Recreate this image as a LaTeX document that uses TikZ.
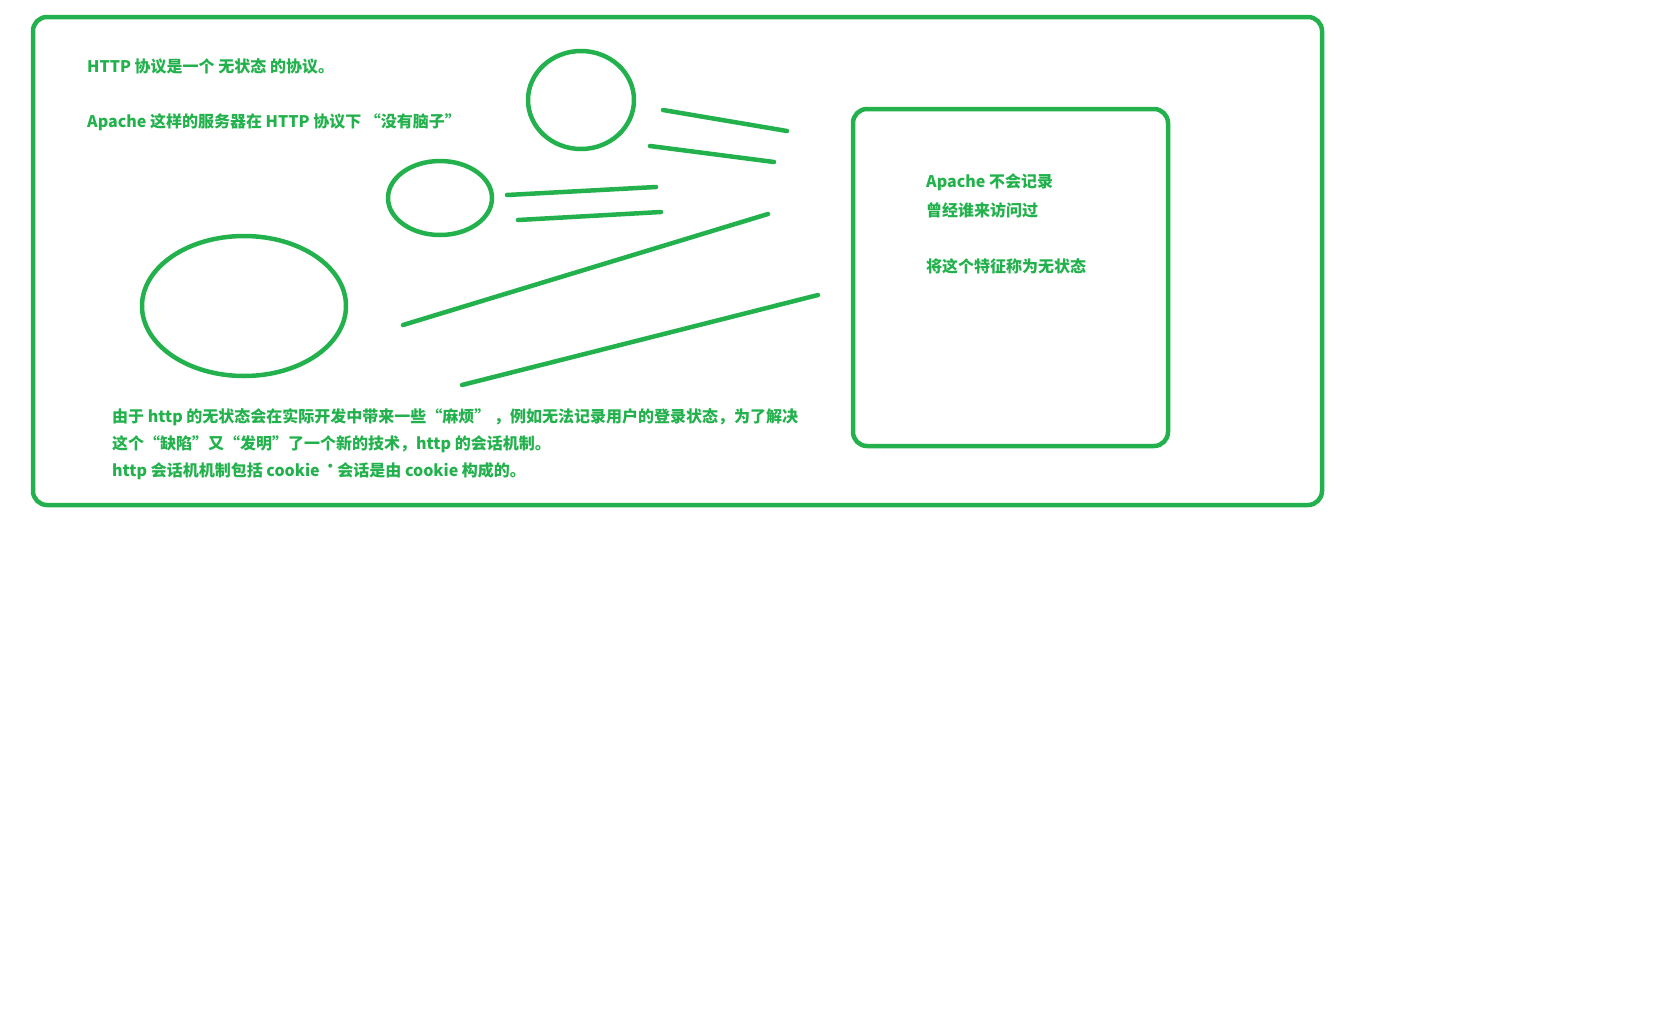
\documentclass[tikz,border=0pt]{standalone}
\usepackage{fontspec}
\setmainfont{Noto Sans CJK SC}
\definecolor{paintgreen}{RGB}{34,177,76}
\tikzset{
  stroke/.style={draw=paintgreen, line width=4.5pt, line cap=round},
  frame/.style={draw=paintgreen, line width=4.5pt, rounded corners=14pt},
  txt/.style={text=paintgreen, font=\fontsize{16}{19}\selectfont\bfseries, anchor=west, inner sep=0pt}
}
\begin{document}
\begin{tikzpicture}[x=1pt,y=-1pt]
\useasboundingbox (0,0) rectangle (1680,1028);
% frames
\draw[frame] (33,17) rectangle (1322,505);
\draw[frame] (853,109) rectangle (1168,446);
% circles
\draw[stroke] (581,100) ellipse [x radius=53, y radius=49];
\draw[stroke] (440,198) ellipse [x radius=52, y radius=37];
\draw[stroke] (244,306) ellipse [x radius=102, y radius=70];
% speed lines
\draw[stroke] (663,110) -- (787,131);
\draw[stroke] (650,146) -- (774,162);
\draw[stroke] (507,195) -- (656,187);
\draw[stroke] (518,220) -- (661,212);
\draw[stroke] (403,325) -- (768,214);
\draw[stroke] (462,385) -- (818,295);
% texts
\node[txt] (t1) at (87,66) {HTTP 协议是一个 无状态 的协议。};
\node[txt] (t2) at (87,122) {Apache 这样的服务器在 HTTP 协议下 “没有脑子”};
\node[txt] (r1) at (926,182) {Apache 不会记录};
\node[txt] (r2) at (926,210) {曾经谁来访问过};
\node[txt] (r3) at (926,266) {将这个特征称为无状态};
\node[txt] (b1) at (112,417) {由于 http 的无状态会在实际开发中带来一些“麻烦” ，例如无法记录用户的登录状态，为了解决};
\node[txt] (b2) at (112,444) {这个“缺陷”又“发明”了一个新的技术，http 的会话机制。};
\node[txt] (b3) at (112,471) {http 会话机机制包括 cookie \raisebox{0.3em}{\fontsize{14}{14}\selectfont •}会话是由 cookie 构成的。};
\end{tikzpicture}
\end{document}
